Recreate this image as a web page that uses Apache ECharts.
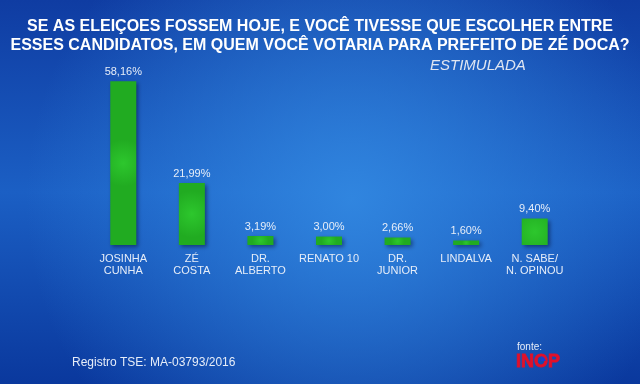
<!DOCTYPE html>
<html><head><meta charset="utf-8">
<script src="https://cdn.jsdelivr.net/npm/echarts@6/dist/echarts.min.js"></script>
<style>html,body{margin:0;padding:0;}#c{width:640px;height:384px;}</style>
</head><body><div id="c"></div>
<script>
const categories = ['JOSINHA\nCUNHA', 'ZÉ\nCOSTA', 'DR.\nALBERTO', 'RENATO 10', 'DR.\nJUNIOR', 'LINDALVA', 'N. SABE/\nN. OPINOU'];
const values = [58.16, 21.99, 3.19, 3.00, 2.66, 1.60, 9.40];
const titleLines = ['SE AS ELEIÇOES FOSSEM HOJE, E VOCÊ TIVESSE QUE ESCOLHER ENTRE', 'ESSES CANDIDATOS, EM QUEM VOCÊ VOTARIA PARA PREFEITO DE ZÉ DOCA?'];
const subtitle = 'ESTIMULADA';
const footer = 'Registro TSE: MA-03793/2016';

const chart = echarts.init(document.getElementById('c'));
const font = '"Liberation Sans", Arial, sans-serif';
chart.setOption({
  backgroundColor: {
    type: 'linear', x: 0, y: 0, x2: 0, y2: 1,
    colorStops: [{offset: 0, color: '#0f3ca2'}, {offset: 0.5, color: '#1b5fc4'}, {offset: 1, color: '#0a389d'}]
  },
  animation: false,
  grid: {left: 89, right: 71, top: 76, bottom: 139},
  xAxis: {
    type: 'category', data: categories,
    axisLine: {show: false}, axisTick: {show: false}, splitLine: {show: false},
    axisLabel: {color: '#e6edf8', fontSize: 11, lineHeight: 12, margin: 8, fontFamily: font, interval: 0}
  },
  yAxis: {type: 'value', min: 0, max: 60, show: false},
  series: [{
    type: 'bar', data: values, barWidth: 26,
    itemStyle: {
      color: {type: 'radial', x: 0.5, y: 0.5, r: 0.9, colorStops: [{offset: 0, color: '#2dc72d'}, {offset: 1, color: '#21ab21'}]},
      shadowBlur: 4, shadowColor: 'rgba(0,0,30,0.45)', shadowOffsetX: 2, shadowOffsetY: 2
    },
    label: {
      show: true, position: 'top', distance: 4, color: '#e6edf8', fontSize: 11,
      fontFamily: font,
      formatter: p => p.value.toFixed(2).replace('.', ',') + '%'
    }
  }],
  graphic: [
    {type: 'rect', z: -10, silent: true, shape: {x: 0, y: 0, width: 640, height: 384},
     style: {fill: {type: 'radial', x: 0.55, y: 0.52, r: 0.85,
       colorStops: [{offset: 0, color: 'rgba(52,140,228,0.85)'}, {offset: 1, color: 'rgba(52,140,228,0)'}]}}},
    {type: 'text', x: 320, y: 17, style: {text: titleLines.join('\n'), fill: '#ffffff', font: 'bold 16px ' + font, lineHeight: 19, align: 'center'}},
    {type: 'text', x: 430, y: 58, style: {text: subtitle, fill: '#dfe6f2', font: 'italic 15px ' + font}},
    {type: 'text', x: 72, y: 357, style: {text: footer, fill: '#e6edf8', font: '12px ' + font}},
    {type: 'text', x: 517, y: 342, style: {text: 'fonte:', fill: '#e6edf8', font: '10px ' + font}},
    {type: 'text', x: 516, y: 353, z: 5, style: {text: 'INOP', fill: '#e0102a', stroke: '#e0102a', lineWidth: 0.8, font: 'bold 18px ' + font}},
    {type: 'sector', z: 10, shape: {cx: 541, cy: 361, r: 4.5, startAngle: -Math.PI / 2, endAngle: 0}, style: {fill: '#1a3fd0'}}
  ]
});
</script></body></html>
